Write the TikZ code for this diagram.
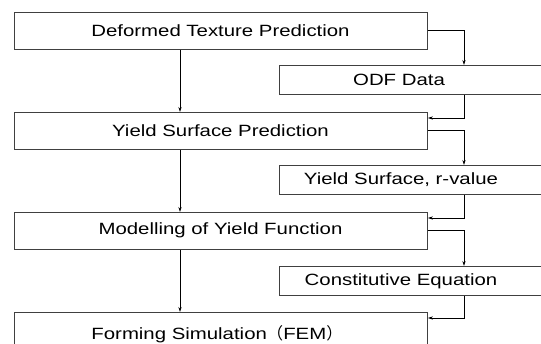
\documentclass[tikz,border=0pt]{standalone}
\usepackage{fontspec}
\setmainfont{Liberation Sans}[FakeStretch=1.25]
\newfontfamily\cjk{Noto Sans CJK SC}[FakeStretch=1.0]
\usetikzlibrary{arrows.meta}
\begin{document}
\begin{tikzpicture}[x=1pt,y=-1pt,
  bigbox/.style={draw=black!75, line width=0.9pt, minimum width=413pt, minimum height=37pt, anchor=north west, inner sep=0pt},
  smallbox/.style={draw=black!75, line width=0.9pt, minimum width=300pt, minimum height=29pt, anchor=north west, inner sep=0pt},
  lbl/.style={font=\fontsize{16.3}{19}\selectfont, inner sep=0pt},
  conn/.style={line width=0.7pt, -{Stealth[length=5pt,width=3.2pt]}}]
\useasboundingbox (0,0) rectangle (541,344);
\clip (0,0) rectangle (541,344);
% big boxes
\node[bigbox] (b1) at (14,12) {};
\node[bigbox] (b2) at (14,112) {};
\node[bigbox] (b3) at (14,212) {};
\node[bigbox] (b4) at (14,312) {};
% small boxes
\node[smallbox] (s1) at (279,65) {};
\node[smallbox] (s2) at (279,165) {};
\node[smallbox] (s3) at (279,266) {};
% labels
\node[lbl] (t1) at (220.5,30.5) {Deformed Texture Prediction};
\node[lbl] (t2) at (220.5,130.5) {Yield Surface Prediction};
\node[lbl] (t3) at (220.5,230.5) {Modelling of Yield Function};
\node[lbl] (t4) at (217,334) {Forming Simulation{\cjk （}FEM{\cjk ）}};
\node[lbl] (u1) at (399,80) {ODF Data};
\node[lbl] (u2) at (401,180) {Yield Surface, r-value};
\node[lbl] (u3) at (401,281) {Constitutive Equation};
% coordinates for elbows
\coordinate (c1a) at (464,30.5);
\coordinate (c1b) at (464,118);
\coordinate (c2a) at (464,130.5);
\coordinate (c2b) at (464,218);
\coordinate (c3a) at (464,230.5);
\coordinate (c3b) at (464,318);
% vertical main arrows
\draw[conn] (b1.south -| 180,0) -- (b2.north -| 180,0);
\draw[conn] (b2.south -| 180,0) -- (b3.north -| 180,0);
\draw[conn] (b3.south -| 180,0) -- (b4.north -| 180,0);
% side loops
\draw[conn] (b1.east |- c1a) -- (c1a) -- (c1a |- s1.north);
\draw[conn] (c1a |- s1.south) -- (c1b) -- (b2.east |- c1b);
\draw[conn] (b2.east |- c2a) -- (c2a) -- (c2a |- s2.north);
\draw[conn] (c2a |- s2.south) -- (c2b) -- (b3.east |- c2b);
\draw[conn] (b3.east |- c3a) -- (c3a) -- (c3a |- s3.north);
\draw[conn] (c3a |- s3.south) -- (c3b) -- (b4.east |- c3b);
\end{tikzpicture}
\end{document}
